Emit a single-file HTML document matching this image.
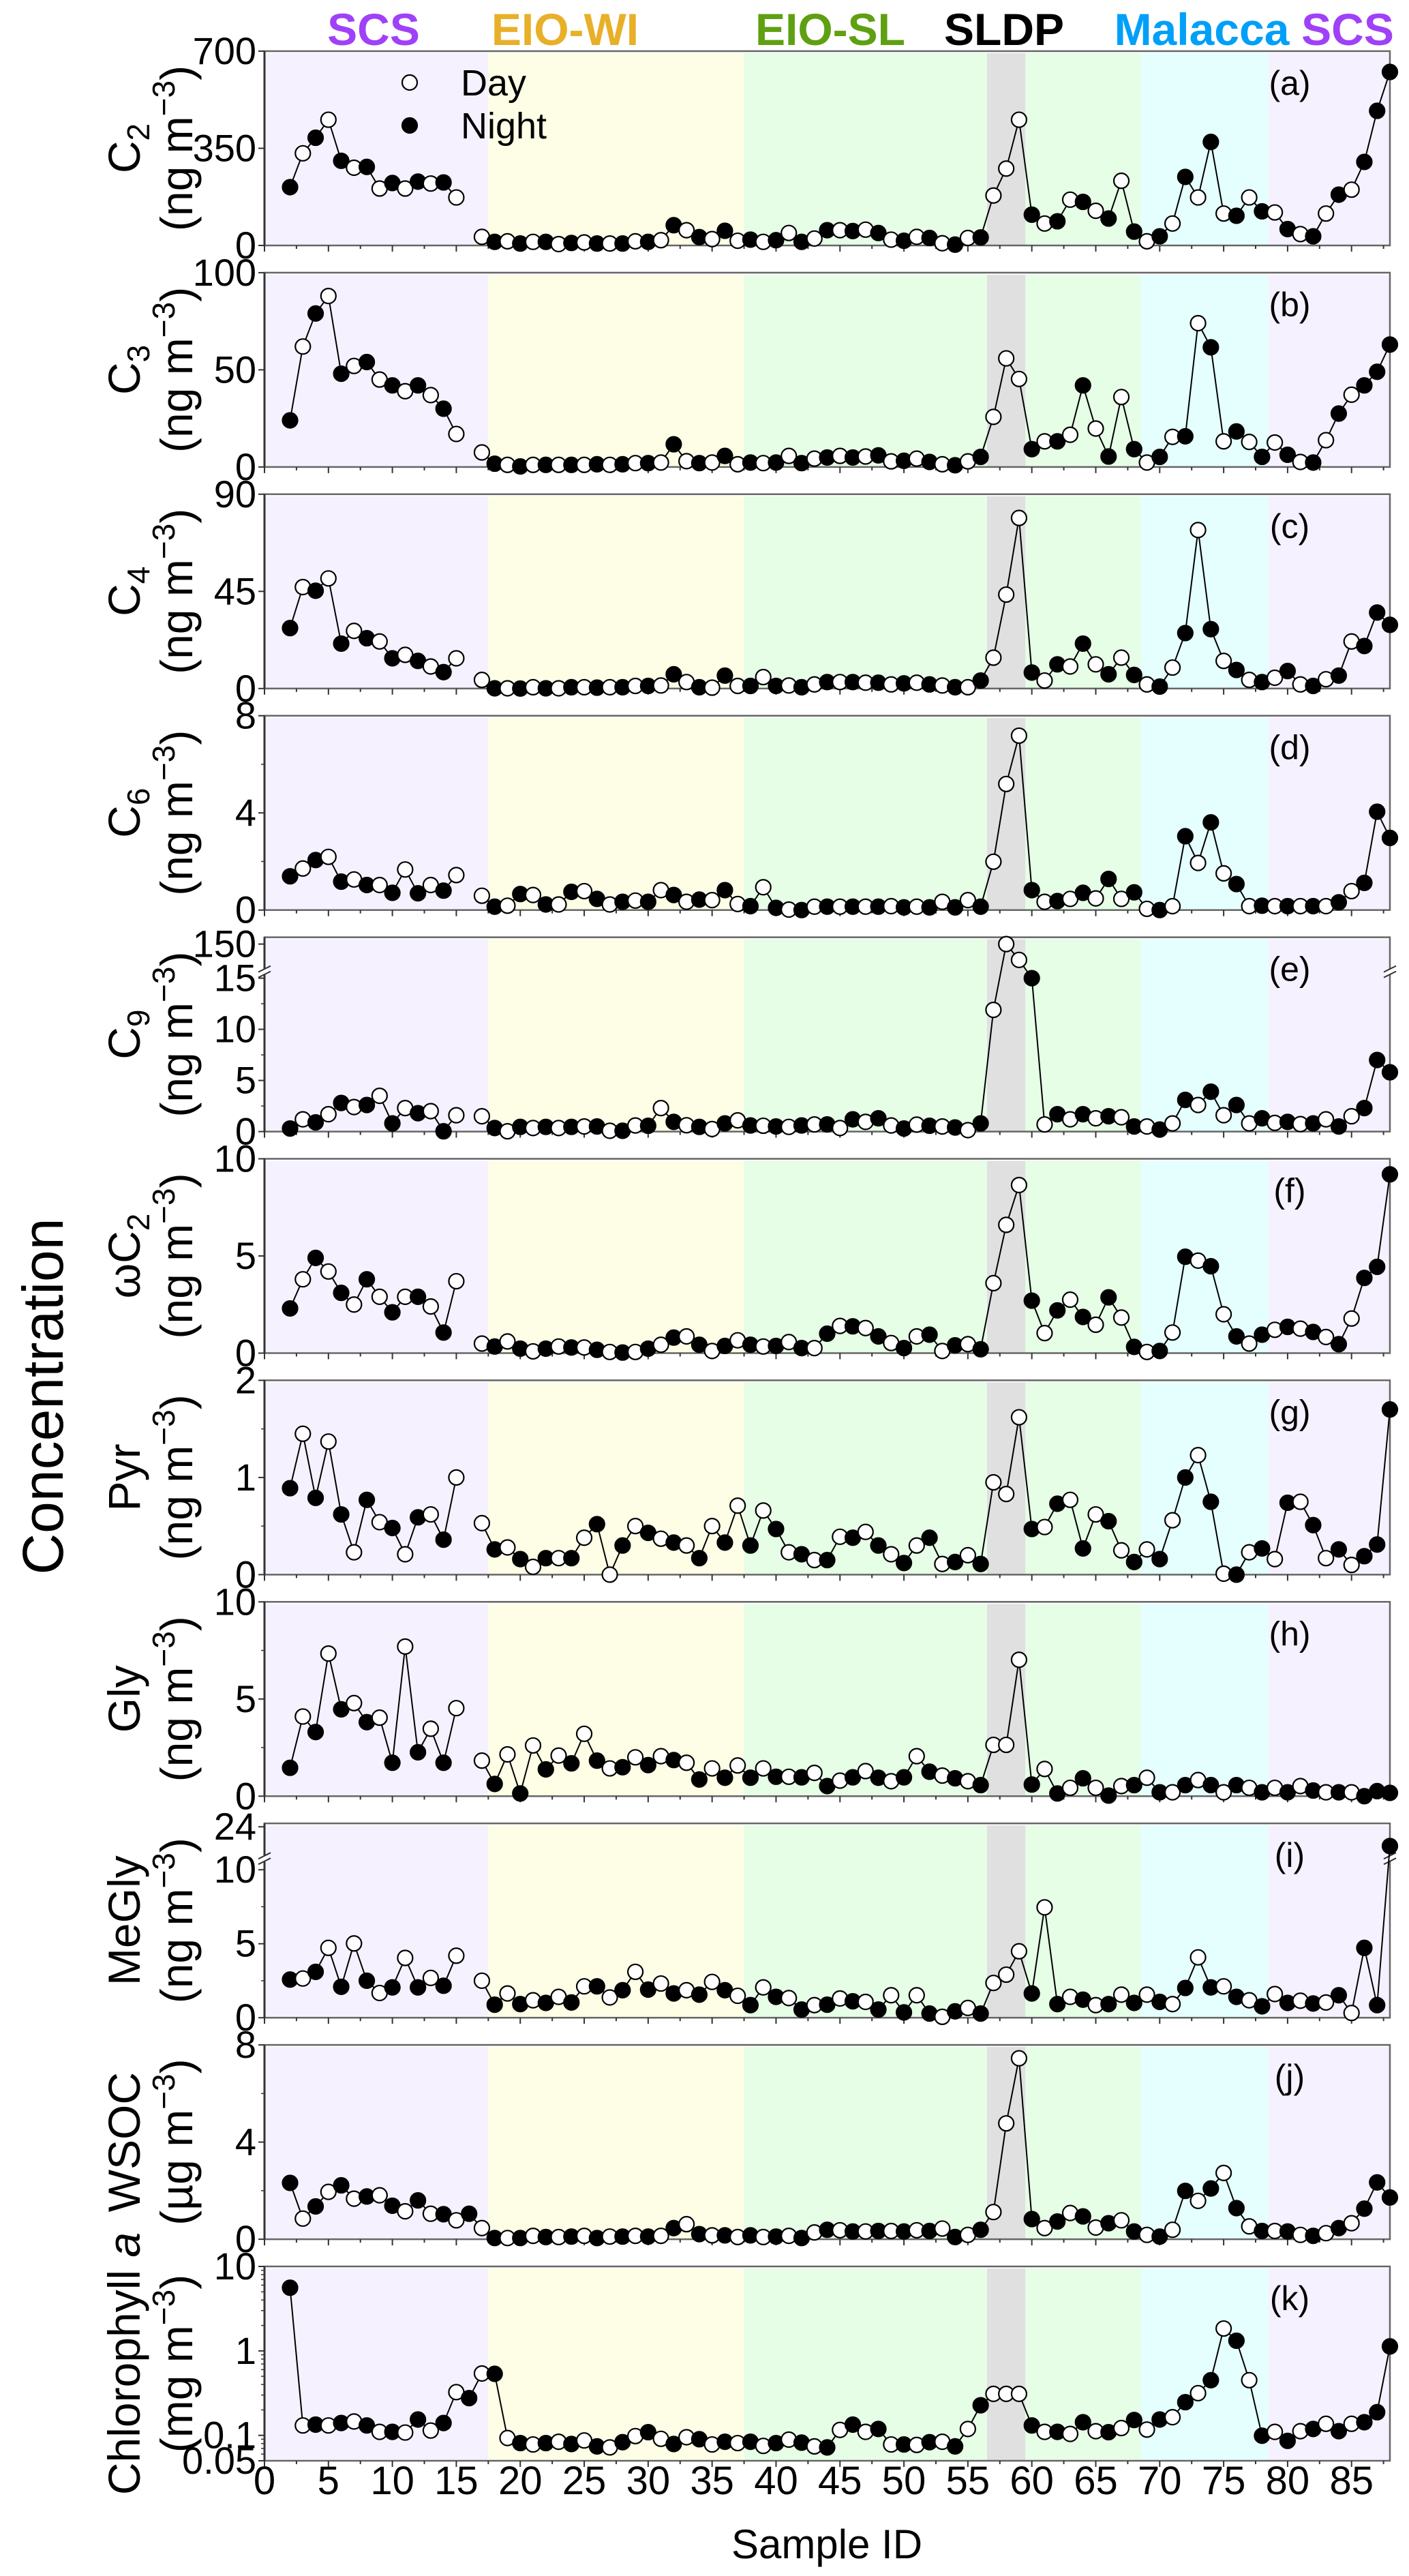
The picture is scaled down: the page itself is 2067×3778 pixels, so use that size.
<!DOCTYPE html>
<html><head><meta charset="utf-8"><style>
html,body{margin:0;padding:0;background:#fff;}
svg{display:block;font-family:"Liberation Sans",Arial,sans-serif;}
</style></head><body>
<svg id="chart" xmlns="http://www.w3.org/2000/svg" width="2067" height="3778" viewBox="0 0 2067 3778"></svg>
<script>
// ---------- data (sample IDs 2..88) ----------
const sampleIdStart = 2;
const dayNight = "NDNDNDNDNDNDNDNDNDNDNDNDNDNDNDNDNDNDNDNDNDNDNDNDNDNDNDNDDDNDNDNDNDNDNDNDNDNDNDNDNDNDN";
const c2Values = [210,332,388,453,305,280,283,205,225,205,230,223,227,173,null,
31,13,15,7,13,13,5,9,11,7, 7,7,15,13,19,73,55,30,23,53, 17,21,13,19,45,13,25,55,55,52, 57,45,21,17,31,27,8,3,27,29,
180,277,453,111,79,87,165,157,125,97, 233,50,15,33,79,247,173,373,115,107, 173,123,119,59,41,33,115,183,201,301, 485,625];
const c3Values = [24,62,79,88,48,52,54,45,42,39,42,37,30,17,null,
7.5,1.7,1.1,0.3,1.1,1.1,1.1,1.1,1.1,1.4, 1.1,1.4,2,2,2.3,11.7,3,2,2.3,5.7, 1.4,2.3,2,2.3,5.7,2,4.3,4.9,5.7,4.9, 5.4,6,2.9,3.2,4.3,2.6,1.4,0.9,2.9,5.2,
25.8,55.9,45.3,9.2,13.2,13.2,16.6,42,19.8,5.4, 36,9.2,2.3,5.2,15.5,15.8,74,61.6,13.2,18.3, 12.9,5.2,12.6,6.3,2.6,2.3,13.8,27.5,37.2,42, 49,63];
const c4Values = [28,47,45.3,51,20.8,26.7,23.3,21.8,14,15.6,12.8,10.2,7.6,14,null,
4,0.1,0.1,0,0.6,0.1,0.1,0.6,0.6,0.4, 0.6,0.6,1.2,1.2,1.4,6.6,3,0.6,0.4,6, 1.2,1.2,5.3,1.2,1.4,0.6,1.9,3,3,3, 2.7,2.7,1.9,2.4,2.7,1.9,1.4,0.6,0.6,3.7,
14.3,43.5,79,7.4,3.7,11.2,10.2,20.8,11.2,6.6, 14.3,6.3,1.9,0.9,9.7,25.7,73.4,27.5,12.8,8.6, 4,3,5,8.1,1.9,1.2,4.3,6,21.8,19.7, 35.2,29.5];
const c6Values = [1.39,1.71,2.06,2.19,1.17,1.26,1.03,1.03,0.71,1.67,0.69,1.03,0.8,1.44,null,
0.59,0.14,0.18,0.66,0.62,0.23,0.23,0.75,0.78,0.46, 0.23,0.34,0.39,0.34,0.82,0.62,0.34,0.43,0.41,0.82, 0.25,0.16,0.94,0.09,0.02,0,0.14,0.14,0.14,0.14, 0.14,0.14,0.16,0.11,0.14,0.11,0.34,0.11,0.41,0.14,
1.99,5.19,7.18,0.82,0.34,0.37,0.46,0.71,0.48,1.28, 0.46,0.73,0.05,0,0.16,3.04,1.94,3.61,1.51,1.07, 0.16,0.18,0.16,0.16,0.16,0.16,0.16,0.32,0.78,1.12, 4.05,2.97];
const c9Values = [0.3,1.2,0.9,1.7,2.8,2.4,2.6,3.5,0.8,2.3,1.8,2.0,0.03,1.6,null,
1.5,0.35,0.03,0.46,0.35,0.46,0.35,0.46,0.5,0.5, 0.08,0.08,0.6,0.57,2.3,0.95,0.62,0.46,0.25,0.8, 1.1,0.6,0.57,0.5,0.46,0.6,0.7,0.7,0.35,1.2, 0.95,1.3,0.6,0.3,0.68,0.57,0.5,0.4,0.14,0.8,
11.9,150,52,15,0.7,1.7,1.2,1.7,1.3,1.5, 1.4,0.5,0.5,0.2,0.8,3.1,2.6,3.9,1.6,2.6, 0.8,1.3,0.85,0.95,0.73,0.8,1.2,0.5,1.5,2.3, 7.0,5.8];
const wc2Values = [2.3,3.8,4.9,4.2,3.1,2.5,3.8,2.9,2.1,2.9,2.9,2.4,1.06,3.7,null,
0.49,0.34,0.6,0.23,0.09,0.23,0.34,0.29,0.29,0.17, 0.06,0.03,0.06,0.23,0.43,0.8,0.86,0.43,0.11,0.37, 0.66,0.43,0.34,0.37,0.57,0.26,0.26,1.0,1.4,1.38, 1.29,0.86,0.52,0.26,0.86,0.95,0.11,0.4,0.46,0.2,
3.6,6.6,8.65,2.7,1.03,2.2,2.75,1.86,1.46,2.87, 1.83,0.32,0.06,0.11,1.06,4.96,4.76,4.47,2.0,0.86, 0.49,0.95,1.2,1.35,1.26,1.09,0.83,0.46,1.78,3.87, 4.44,9.2];
const pyrValues = [0.89,1.45,0.79,1.37,0.62,0.23,0.77,0.54,0.48,0.21,0.59,0.62,0.36,1.0,null,
0.53,0.26,0.28,0.16,0.08,0.17,0.17,0.17,0.38,0.52, 0.0,0.3,0.5,0.43,0.37,0.33,0.3,0.17,0.5,0.33, 0.71,0.3,0.66,0.47,0.23,0.21,0.15,0.15,0.39,0.38, 0.44,0.3,0.21,0.12,0.3,0.38,0.11,0.13,0.2,0.11,
0.95,0.83,1.62,0.47,0.49,0.73,0.77,0.27,0.62,0.55, 0.25,0.13,0.26,0.16,0.56,1.0,1.23,0.75,0.01,0.0, 0.23,0.27,0.16,0.74,0.75,0.51,0.17,0.26,0.1,0.19, 0.31,1.7];
const glyValues = [1.46,4.1,3.3,7.34,4.47,4.79,3.81,4.04,1.72,7.7,2.26,3.47,1.72,4.53,null,
1.83,0.63,2.15,0.14,2.61,1.38,2.09,1.69,3.21,1.83, 1.43,1.49,2.0,1.6,2.06,1.86,1.72,0.86,1.43,0.95, 1.58,0.95,1.43,1.0,1.0,0.97,1.2,0.52,0.8,0.97, 1.29,0.95,0.77,0.97,2.06,1.26,1.06,0.92,0.77,0.57,
2.64,2.64,7.02,0.6,1.4,0.14,0.43,0.92,0.43,0.03, 0.52,0.57,0.95,0.2,0.2,0.57,0.83,0.57,0.2,0.57, 0.43,0.2,0.43,0.2,0.52,0.29,0.2,0.2,0.2,0, 0.26,0.17];
const meglyValues = [2.58,2.65,3.1,4.72,2.09,5.02,2.5,1.67,2.05,4.04,2.05,2.69,2.16,4.19,null,
2.5,0.88,1.64,0.92,1.18,1.0,1.41,1.03,2.12,2.12, 1.37,1.86,3.1,1.9,2.31,1.64,1.86,1.56,2.42,1.86, 1.48,0.85,2.05,1.41,1.33,0.55,0.85,0.88,1.3,1.11, 1.07,0.55,1.52,0.36,1.52,0.28,0.06,0.43,0.66,0.28,
2.35,2.91,4.49,1.64,7.46,0.92,1.41,1.22,0.85,0.92, 1.56,1.0,1.56,1.07,0.92,2.01,4.08,2.05,2.12,1.41, 1.18,0.77,1.6,1.0,1.15,0.96,1.03,1.52,0.32,4.72, 0.85,12];
const wsocValues = [2.32,0.85,1.35,1.95,2.22,1.67,1.76,1.81,1.38,1.15,1.6,1.05,1.03,0.78,1.05,
0.46,0.05,0.05,0.05,0.14,0.09,0.09,0.11,0.14,0.05, 0.11,0.11,0.14,0.11,0.14,0.46,0.62,0.21,0.16,0.16, 0.09,0.16,0.09,0.11,0.14,0.05,0.28,0.39,0.37,0.32, 0.32,0.34,0.34,0.32,0.37,0.34,0.44,0.09,0.18,0.39,
1.12,4.77,7.45,0.83,0.46,0.73,1.08,0.94,0.48,0.66, 0.78,0.32,0.18,0.11,0.39,1.99,1.58,2.09,2.73,1.28, 0.53,0.34,0.34,0.32,0.18,0.14,0.25,0.46,0.66,1.26, 2.34,1.72];
const chlaValues = [5.6,0.131,0.134,0.131,0.14,0.146,0.131,0.11,0.11,0.108,0.154,0.114,0.14,0.325,0.276,
0.54,0.535,0.093,0.081,0.078,0.081,0.084,0.079,0.087,0.074, 0.072,0.083,0.098,0.109,0.091,0.079,0.095,0.09,0.078,0.084, 0.081,0.084,0.075,0.081,0.089,0.082,0.074,0.072,0.116,0.134, 0.11,0.119,0.078,0.078,0.077,0.083,0.084,0.074,0.119,0.227,
0.31,0.31,0.31,0.131,0.11,0.11,0.104,0.143,0.112,0.109, 0.122,0.152,0.117,0.154,0.164,0.247,0.316,0.45,1.84,1.32, 0.45,0.099,0.11,0.086,0.112,0.119,0.137,0.112,0.137,0.143, 0.188,1.13];

const xTickLabels = [0,5,10,15,20,25,30,35,40,45,50,55,60,65,70,75,80,85];
const regionNames = ["SCS","EIO-WI","EIO-SL","SLDP","EIO-SL","Malacca","SCS"];
const regionStarts = [0,17.5,37.5,56.5,59.5,68.5,78.5];
const regionEnds = [17.5,37.5,56.5,59.5,68.5,78.5,88];
const panelLetters = ["a","b","c","d","e","f","g","h","i","j","k"];
const yTicksA=[0,350,700], yTicksB=[0,50,100], yTicksC=[0,45,90], yTicksD=[0,4,8], yTicksE=[0,5,10,15,150],
      yTicksF=[0,5,10], yTicksG=[0,1,2], yTicksH=[0,5,10], yTicksI=[0,5,10,24], yTicksJ=[0,4,8], yTicksK=[0.05,0.1,1,10];

// ---------- layout ----------
const NS="http://www.w3.org/2000/svg";
const svg=document.getElementById('chart');
const PL=388, PR=2039, XMAX=88;
const PTOP0=75, PSTEP=324.9, PH=285;
function X(v){return PL+v*(PR-PL)/XMAX;}
function mk(tag,attrs,parent){const e=document.createElementNS(NS,tag);for(const k in attrs)e.setAttribute(k,attrs[k]);(parent||svg).appendChild(e);return e;}
const bandColors=["#f6f1ff","#fefee6","#e6fde6","#e0e0e0","#e6fde6","#e5ffff","#f6f1ff"];
const titleColors=["#a040f8","#e8b028","#5fa012","#000000",null,"#00a0f8","#a040f8"];
const titleX=[548,829,1218,1473,null,1763,1977];

// region titles
for(let r=0;r<regionNames.length;r++){
  if(!titleColors[r])continue;
  const t=mk('text',{x:titleX[r],y:66,'text-anchor':'middle','font-size':66,'font-weight':'bold',fill:titleColors[r]});
  
  
  t.textContent=regionNames[r];
}

function linScale(min,max,top){return v=>top+PH-(v-min)/(max-min)*PH;}
function brokenScale(L,yLoff,breakTopOff,U,yUoff,top){
  return v=> v<=L ? top+PH-(v/L)*(PH-yLoff) : top+breakTopOff-(v-L)/(U-L)*(breakTopOff-yUoff);
}
function logScale(min,max,top){const a=Math.log10(min),b=Math.log10(max);return v=>top+PH-(Math.log10(v)-a)/(b-a)*PH;}

const panels=[
 {vals:c2Values,ticks:yTicksA,label:['C','2'],unit:'ng',type:'lin',min:0,max:700,minor:[]},
 {vals:c3Values,ticks:yTicksB,label:['C','3'],unit:'ng',type:'lin',min:0,max:100,minor:[]},
 {vals:c4Values,ticks:yTicksC,label:['C','4'],unit:'ng',type:'lin',min:0,max:90,minor:[]},
 {vals:c6Values,ticks:yTicksD,label:['C','6'],unit:'ng',type:'lin',min:0,max:8,minor:[2,6]},
 {vals:c9Values,ticks:yTicksE,label:['C','9'],unit:'ng',type:'brk',L:15,yL:60,bt:42,U:150,yU:10,minor:[2.5,7.5,12.5],brk:51},
 {vals:wc2Values,ticks:yTicksF,label:['ωC','2'],unit:'ng',type:'lin',min:0,max:10,minor:[]},
 {vals:pyrValues,ticks:yTicksG,label:['Pyr',''],unit:'ng',type:'lin',min:0,max:2,minor:[0.5,1.5]},
 {vals:glyValues,ticks:yTicksH,label:['Gly',''],unit:'ng',type:'lin',min:0,max:10,minor:[2.5,7.5]},
 {vals:meglyValues,ticks:yTicksI,label:['MeGly',''],unit:'ng',type:'brk',L:10,yL:68,bt:38,U:24,yU:5,minor:[2.5,7.5],brk:52},
 {vals:wsocValues,ticks:yTicksJ,label:['WSOC',''],unit:'µg',type:'lin',min:0,max:8,minor:[2,6]},
 {vals:chlaValues,ticks:yTicksK,label:['Chlorophyll ','a'],unit:'mg',type:'log',min:0.05,max:10,minor:[0.06,0.07,0.08,0.09,0.2,0.3,0.4,0.5,0.6,0.7,0.8,0.9,2,3,4,5,6,7,8,9]}
];

panels.forEach((p,i)=>{
  const top=PTOP0+i*PSTEP, bot=top+PH;
  const g=mk('g',{});
  
  
  let Y;
  if(p.type==='lin')Y=linScale(p.min,p.max,top);
  else if(p.type==='brk')Y=brokenScale(p.L,p.yL,p.bt,p.U,p.yU,top);
  else Y=logScale(p.min,p.max,top);
  // bands
  for(let r=0;r<regionStarts.length;r++){
    const b=mk('rect',{x:X(regionStarts[r]),y:top+3,width:X(regionEnds[r])-X(regionStarts[r]),height:PH-3,fill:bandColors[r]},g);
    
    
  }
  // frame
  const fr=mk('rect',{x:PL,y:top,width:PR-PL,height:PH,fill:'none',stroke:'#666','stroke-width':2.5},g);
  
  
  mk('line',{x1:PL,y1:top,x2:PL,y2:bot,stroke:'#333','stroke-width':3},g);
  // x ticks
  for(let v=0;v<=XMAX;v+=2.5){
    const major=(v%5===0);
    mk('line',{x1:X(v),y1:bot,x2:X(v),y2:bot+(major?9:5),stroke:'#333','stroke-width':2},g);
  }
  // y ticks
  p.ticks.forEach(t=>{
    const y=Y(t);
    mk('line',{x1:PL-9,y1:y,x2:PL,y2:y,stroke:'#333','stroke-width':2},g);
    const tl=mk('text',{x:PL-12,y:y+19,'text-anchor':'end','font-size':56,fill:'#000'},g);
    
    
    tl.textContent=String(t);
  });
  p.minor.forEach(t=>{const y=Y(t);mk('line',{x1:PL-5,y1:y,x2:PL,y2:y,stroke:'#333','stroke-width':1.5},g);});
  if(p.brk){
    const yb=top+p.brk;
    [PL,PR].forEach(xx=>{
      mk('rect',{x:xx-6,y:yb-4,width:12,height:8,fill:'#fff'},g);
      mk('line',{x1:xx-9,y1:yb,x2:xx+9,y2:yb-9,stroke:'#333','stroke-width':2},g);
      mk('line',{x1:xx-9,y1:yb+8,x2:xx+9,y2:yb-1,stroke:'#333','stroke-width':2},g);
    });
  }
  // series line (break at nulls)
  let d='',pen=false;
  p.vals.forEach((v,k)=>{
    if(v===null){pen=false;return;}
    const x=X(sampleIdStart+k),y=Y(v);
    d+=(pen?'L':'M')+x.toFixed(1)+' '+y.toFixed(1)+' ';pen=true;
  });
  const ln=mk('path',{d:d,fill:'none',stroke:'#000','stroke-width':2},g);
  
  
  p.vals.forEach((v,k)=>{
    if(v===null)return;
    const isDay=dayNight[k]==='D';
    const c=mk('circle',{cx:X(sampleIdStart+k),cy:Y(v),r:11,fill:isDay?'#fff':'#000',stroke:'#000','stroke-width':2.2},g);
    
    
  });
  // panel letter
  const pl=mk('text',{x:1892,y:top+64,'text-anchor':'middle','font-size':50},g);
  
  
  pl.textContent='('+panelLetters[i]+')';
  // y labels
  const cy=top+PH/2;
  const l1=mk('text',{x:0,y:0,transform:`translate(205,${cy}) rotate(-90)`,'text-anchor':'middle','font-size':66},g);
  
  
  if(i===10){
    const s1=mk('tspan',{},l1);s1.textContent=p.label[0];
    const s2=mk('tspan',{'font-style':'italic'},l1);s2.textContent=p.label[1];
  } else {
    const s1=mk('tspan',{},l1);s1.textContent=p.label[0];
    if(p.label[1]){const s2=mk('tspan',{dy:14,'font-size':46},l1);s2.textContent=p.label[1];}
  }
  const l2=mk('text',{x:0,y:0,transform:`translate(282,${cy}) rotate(-90)`,'text-anchor':'middle','font-size':66},g);
  
  
  const u1=mk('tspan',{},l2);u1.textContent='('+p.unit+' m';
  const u2=mk('tspan',{dy:-26,'font-size':46},l2);u2.textContent='−3';
  const u3=mk('tspan',{dy:26},l2);u3.textContent=')';
});

// legend
const lg=mk('g',{});


mk('circle',{cx:601,cy:121,r:11,fill:'#fff',stroke:'#000','stroke-width':2.2},lg);
mk('circle',{cx:601,cy:184,r:11,fill:'#000',stroke:'#000','stroke-width':2.2},lg);
const ld=mk('text',{x:676,y:140,'font-size':54},lg);ld.textContent='Day';


const ln2=mk('text',{x:676,y:203,'font-size':54},lg);ln2.textContent='Night';



// x tick labels (bottom)
xTickLabels.forEach(v=>{
  const t=mk('text',{x:X(v),y:3658,'text-anchor':'middle','font-size':58});
  
  
  t.textContent=String(v);
});
const xt=mk('text',{x:1213,y:3752,'text-anchor':'middle','font-size':60});


xt.textContent='Sample ID';
const ct=mk('text',{x:0,y:0,transform:'translate(92,2048) rotate(-90)','text-anchor':'middle','font-size':84});


ct.textContent='Concentration';
</script>
</body></html>
